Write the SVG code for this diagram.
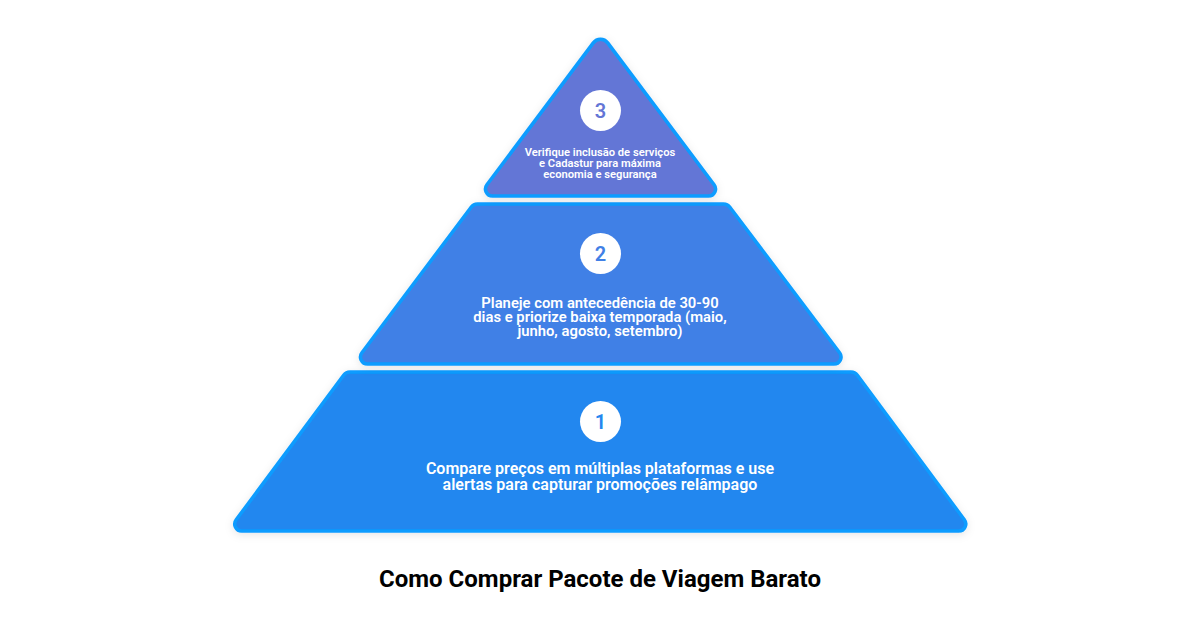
<svg xmlns="http://www.w3.org/2000/svg" width="1200" height="630" viewBox="0 0 1200 630">
<style>
.t{stroke:#0b9cff;stroke-width:3.5;filter:url(#s)}
text{font-family:Roboto,"Liberation Sans",sans-serif;text-anchor:middle}
.l{fill:#fff;font-weight:600}
.n{font-size:20px;font-weight:600}
</style>
<defs><filter id="s" x="-10%" y="-10%" width="120%" height="125%"><feDropShadow dx="0" dy="2" stdDeviation="4" flood-color="#000" flood-opacity=".1"/></filter></defs>
<rect width="1200" height="630" fill="#fff"/>
<g id="tier1">
<path class="t" fill="#2487ef" d="M350,372H851A8,8 0 0 1 857.4,375.2L964.35,519.8A7,7 0 0 1 958.75,531H241.75A7,7 0 0 1 236.15,519.8L343.6,375.2A8,8 0 0 1 350,372Z"/>
<circle cx="600.5" cy="421.5" r="20.5" fill="#fff"/>
<text class="n" x="600.5" y="429" fill="#2487ef">1</text>
<text class="l" font-size="16" x="600" y="474">Compare preços em múltiplas plataformas e use</text>
<text class="l" font-size="16" x="600" y="490">alertas para capturar promoções relâmpago</text>
</g>
<g id="tier2">
<path class="t" fill="#4180e6" d="M477.5,204H723.5A8,8 0 0 1 729.9,207.2L839.6,352.8A7,7 0 0 1 834,364H367.5A7,7 0 0 1 361.9,352.8L471.1,207.2A8,8 0 0 1 477.5,204Z"/>
<circle cx="600.5" cy="253.5" r="20.5" fill="#fff"/>
<text class="n" x="600.5" y="261" fill="#4180e6">2</text>
<text class="l" font-size="14.8" x="600" y="308">Planeje com antecedência de 30-90</text>
<text class="l" font-size="14.8" x="600" y="322">dias e priorize baixa temporada (maio,</text>
<text class="l" font-size="14.8" x="600" y="336">junho, agosto, setembro)</text>
</g>
<g id="tier3">
<path class="t" fill="#6476d6" d="M593.3,42.9A9,9 0 0 1 607.7,42.9L714.1,184.8A7,7 0 0 1 708.5,196H492.5A7,7 0 0 1 486.9,184.8Z"/>
<circle cx="600.5" cy="110.5" r="20.5" fill="#fff"/>
<text class="n" x="600.5" y="118" fill="#6476d6">3</text>
<text class="l" font-size="11.2" x="600" y="156">Verifique inclusão de serviços</text>
<text class="l" font-size="11.2" x="600" y="167">e Cadastur para máxima</text>
<text class="l" font-size="11.2" x="600" y="178">economia e segurança</text>
</g>
<text id="title" x="600" y="587" font-size="24" font-weight="700" fill="#000">Como Comprar Pacote de Viagem Barato</text>
</svg>
